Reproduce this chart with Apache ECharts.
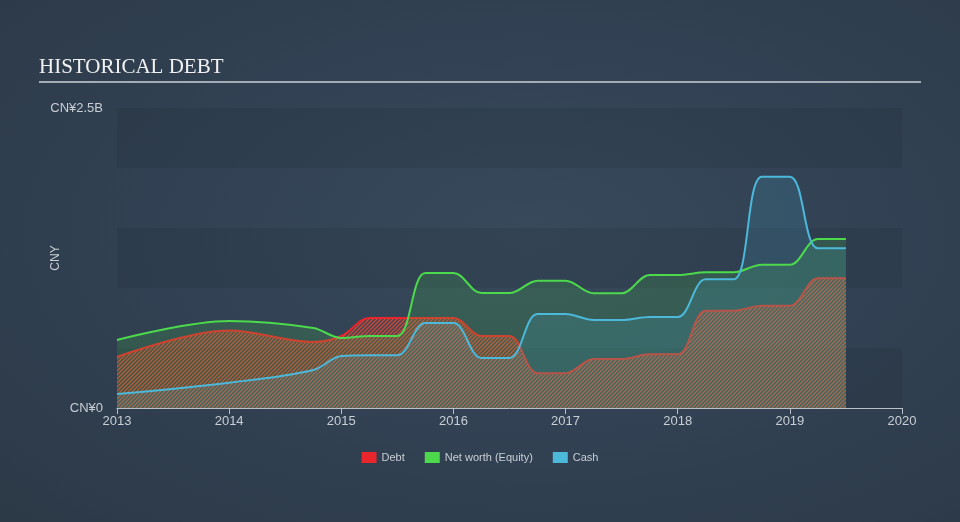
<!DOCTYPE html>
<html><head><meta charset="utf-8">
<script src="https://cdn.jsdelivr.net/npm/echarts@6/dist/echarts.min.js"></script>
<style>
html,body{margin:0;padding:0;width:960px;height:522px;overflow:hidden;
background:radial-gradient(ellipse at 55% 45%, #37495b 0%, #324254 45%, #2c3947 100%);}
#c{width:960px;height:522px;}
</style>
</head><body><div id="c"></div><script>
// Decimal-year dates of the reported points
const dates = [2013.0, 2014.0, 2014.75, 2015.0, 2015.25, 2015.5, 2015.75, 2016.0, 2016.25, 2016.5, 2016.75, 2017.0, 2017.25, 2017.5, 2017.75, 2018.0, 2018.25, 2018.5, 2018.75, 2019.0, 2019.25, 2019.5];
// Values in CN¥ billions
const debt   = [0.425, 0.645, 0.55, 0.60, 0.75, 0.75, 0.75, 0.75, 0.60, 0.60, 0.29, 0.29, 0.408, 0.408, 0.447, 0.447, 0.811, 0.811, 0.853, 0.853, 1.081, 1.081];
const equity = [0.567, 0.725, 0.667, 0.583, 0.60, 0.60, 1.125, 1.125, 0.958, 0.958, 1.061, 1.061, 0.956, 0.956, 1.108, 1.108, 1.131, 1.131, 1.194, 1.194, 1.408, 1.408];
const cash   = [0.117, 0.211, 0.317, 0.433, 0.44, 0.44, 0.708, 0.708, 0.417, 0.417, 0.783, 0.783, 0.733, 0.733, 0.758, 0.758, 1.072, 1.072, 1.928, 1.928, 1.331, 1.331];
const seriesNames = ['Debt', 'Net worth (Equity)', 'Cash'];
const xMin = 2013, xMax = 2020;
const yMin = 0, yMax = 2.5;

function hatch() {
  const s = 4;
  const cv = document.createElement('canvas');
  cv.width = s; cv.height = s;
  const g = cv.getContext('2d');
  g.fillStyle = 'rgba(232,38,43,0.12)';
  g.fillRect(0, 0, s, s);
  g.strokeStyle = 'rgba(238,80,52,0.75)';
  g.lineWidth = 1.4;
  g.beginPath();
  g.moveTo(-1, s + 1); g.lineTo(s + 1, -1);
  g.moveTo(-1, 1); g.lineTo(1, -1);
  g.moveTo(s - 1, s + 1); g.lineTo(s + 1, s - 1);
  g.stroke();
  return cv;
}

const colors = ['#e8262b', '#4cd94c', '#4cb8da'];
const pair = arr => dates.map((t, i) => [t, arr[i]]);
const chart = echarts.init(document.getElementById('c'), null, {renderer: 'canvas'});
chart.setOption({
  backgroundColor: 'transparent',
  animation: false,
  title: {
    text: 'HISTORICAL DEBT', left: 39, top: 57, padding: 0,
    textStyle: {fontFamily: 'Liberation Serif', fontWeight: 'normal', fontSize: 21, color: '#f2f2f2'}
  },
  graphic: [{
    type: 'line', shape: {x1: 39, y1: 82, x2: 921, y2: 82},
    style: {stroke: '#a3abb4', lineWidth: 2}, silent: true
  }],
  legend: {
    top: 447, left: 'center', icon: 'rect', itemWidth: 15, itemHeight: 11, itemGap: 20,
    textStyle: {color: '#c8ced4', fontSize: 11, fontFamily: 'Liberation Sans'},
    data: seriesNames.map((n, i) => ({name: n, itemStyle: {color: colors[i]}}))
  },
  grid: {left: 117, right: 58, top: 108, bottom: 114, containLabel: false},
  xAxis: {
    type: 'value', min: xMin, max: xMax, interval: 1,
    axisLine: {show: true, lineStyle: {color: '#b9c0c8', width: 1}},
    axisTick: {show: true, length: 6, lineStyle: {color: '#b9c0c8'}},
    axisLabel: {color: '#c8ced4', fontSize: 13, fontFamily: 'Liberation Sans', margin: 7, formatter: v => String(Math.round(v))},
    splitLine: {show: false}
  },
  yAxis: {
    type: 'value', min: yMin, max: yMax, interval: 0.5,
    name: 'CNY', nameLocation: 'middle', nameGap: 55, nameRotate: 90, nameMoveOverlap: false,
    nameTextStyle: {color: '#c8ced4', fontSize: 12, fontFamily: 'Liberation Sans'},
    axisLine: {show: false}, axisTick: {show: false},
    axisLabel: {color: '#c8ced4', fontSize: 13, fontFamily: 'Liberation Sans', margin: 14,
      formatter: v => Math.abs(v) < 1e-9 ? 'CN¥0' : (Math.abs(v - 2.5) < 1e-9 ? 'CN¥2.5B' : '')},
    splitLine: {show: false},
    splitArea: {show: true, areaStyle: {color: ['rgba(0,0,0,0.07)', 'rgba(0,0,0,0)']}}
  },
  series: [
    {name: seriesNames[0], type: 'line', z: 2, data: pair(debt), smooth: 0.35, showSymbol: false,
     itemStyle: {color: colors[0]}, lineStyle: {color: colors[0], width: 2},
     areaStyle: {color: {image: hatch(), repeat: 'repeat'}, opacity: 1}},
    {name: seriesNames[1], type: 'line', z: 3, data: pair(equity), smooth: 0.35, showSymbol: false,
     itemStyle: {color: colors[1]}, lineStyle: {color: colors[1], width: 2},
     areaStyle: {color: 'rgba(76,205,76,0.25)'}},
    {name: seriesNames[2], type: 'line', z: 3, data: pair(cash), smooth: 0.35, showSymbol: false,
     itemStyle: {color: colors[2]}, lineStyle: {color: colors[2], width: 2},
     areaStyle: {color: 'rgba(74,184,216,0.22)'}}
  ]
});
</script></body></html>
